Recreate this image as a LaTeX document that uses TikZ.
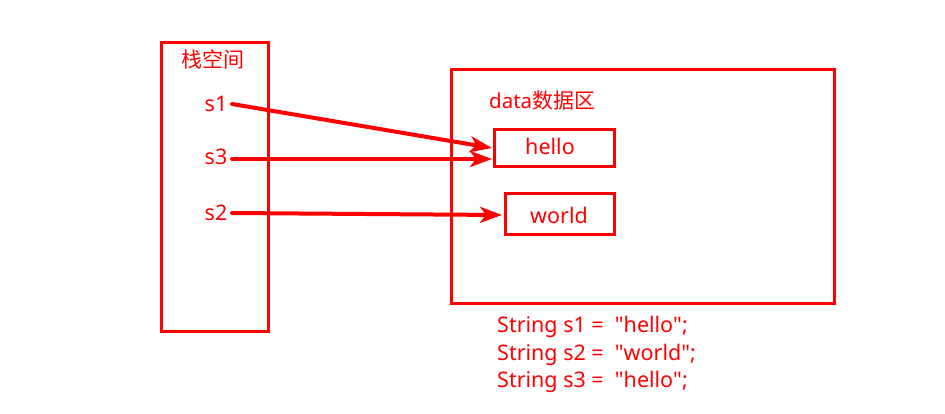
\documentclass[tikz,border=0pt]{standalone}
\usepackage{fontspec}
\setmainfont{Noto Sans}
\newfontfamily\cjk{Noto Sans CJK SC}
\usetikzlibrary{arrows.meta}
\definecolor{rd}{RGB}{255,0,0}
\newcommand\qq{\textquotedbl}
\begin{document}
\begin{tikzpicture}[x=1pt,y=-1pt,
  frame/.style={draw=rd,line width=3pt},
  lbl/.style={text=rd,font=\fontsize{21.5}{24}\selectfont,inner sep=0pt},
  ptr/.style={draw=rd,line width=4pt,-{Stealth[length=22pt,width=16pt,inset=6pt]}}]
\useasboundingbox (0,0) rectangle (945,413);
\node[frame,minimum width=107pt,minimum height=289pt,anchor=north west,inner sep=0pt] (stack) at (160,41) {};
\node[lbl,font=\fontsize{21}{22}\selectfont\cjk] (stl) at (213,59) {栈空间};
\node[lbl] (s1) at (216,104) {s1};
\node[lbl] (s3) at (216,157) {s3};
\node[lbl] (s2) at (216,213) {s2};
\node[frame,minimum width=383pt,minimum height=234pt,anchor=north west,inner sep=0pt] (data) at (450,68) {};
\node[lbl,anchor=west,font=\fontsize{20.5}{22}\selectfont] (dl) at (489,101) {data{\fontsize{21}{22}\selectfont\cjk 数据区}};
\node[frame,minimum width=120pt,minimum height=37pt,anchor=north west,inner sep=0pt] (hello) at (493,128) {};
\node[lbl] (ht) at (550,146) {hello};
\node[frame,minimum width=109pt,minimum height=41pt,anchor=north west,inner sep=0pt] (world) at (504,192) {};
\node[lbl] (wt) at (559,215) {world};
\coordinate (a1) at (232,104);
\coordinate (a3) at (232,159);
\coordinate (a2) at (232,213);
\coordinate (e1) at (492,148);
\coordinate (e3) at (492,159);
\coordinate (e2) at (502,215);
\draw[ptr,line cap=round] (a1) -- (e1);
\draw[ptr,line cap=round] (a3) -- (e3);
\draw[ptr,line cap=round] (a2) -- (e2);
\node[lbl,anchor=west] (c1) at (497,327) {String s1 =\ \ \qq hello\qq;};
\node[lbl,anchor=west] (c2) at (497,355) {String s2 =\ \ \qq world\qq;};
\node[lbl,anchor=west] (c3) at (497,382) {String s3 =\ \ \qq hello\qq;};
\end{tikzpicture}
\end{document}
